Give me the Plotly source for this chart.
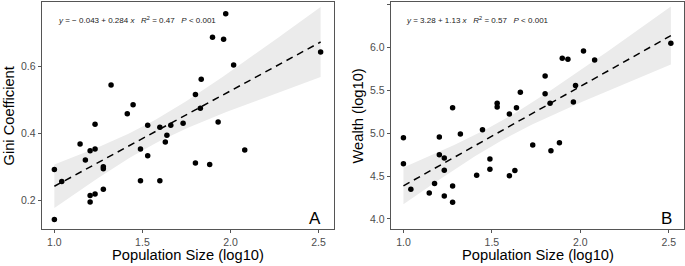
import numpy as np
import plotly.graph_objects as go

# ---------------- data ----------------
pop_a = [1.0, 1.0, 1.042, 1.146, 1.176, 1.203, 1.203, 1.203, 1.231, 1.231, 1.231,
         1.278, 1.278, 1.278, 1.322, 1.414, 1.447, 1.489, 1.489, 1.53, 1.53,
         1.599, 1.599, 1.63, 1.639, 1.661, 1.731, 1.801, 1.801, 1.829, 1.834,
         1.882, 1.898, 1.93, 1.961, 1.973, 2.018, 2.081, 2.512]
gini = [0.292, 0.143, 0.256, 0.368, 0.320, 0.348, 0.214, 0.195, 0.353, 0.427, 0.219,
        0.300, 0.294, 0.233, 0.544, 0.458, 0.485, 0.353, 0.258, 0.424, 0.333,
        0.418, 0.258, 0.374, 0.394, 0.424, 0.430, 0.516, 0.311, 0.475, 0.561,
        0.307, 0.687, 0.434, 0.681, 0.757, 0.604, 0.350, 0.643]

pop_b = [1.0, 1.0, 1.042, 1.146, 1.176, 1.203, 1.203, 1.231, 1.231, 1.231,
         1.278, 1.278, 1.278, 1.322, 1.414, 1.447, 1.489, 1.489, 1.53, 1.53,
         1.599, 1.599, 1.63, 1.639, 1.661, 1.731, 1.801, 1.801, 1.829, 1.834,
         1.882, 1.898, 1.93, 1.961, 1.973, 2.018, 2.081, 2.512]
wealth = [4.949, 4.646, 4.347, 4.304, 4.413, 4.958, 4.751, 4.712, 4.569, 4.269,
          5.300, 4.386, 4.195, 4.993, 4.510, 5.043, 4.701, 4.580, 5.351, 5.308,
          5.226, 4.506, 4.565, 5.300, 5.479, 4.864, 5.670, 5.463, 5.350, 4.798,
          4.891, 5.876, 5.864, 5.366, 5.557, 5.961, 5.856, 6.051]

x_title = "Population Size (log10)"
y_title_a = "Gini Coefficient"
y_title_b = "Wealth (log10)"
eq_a = "<i>y</i>\u00a0=\u00a0\u2212\u00a00.043\u00a0+\u00a00.284\u00a0<i>x</i>\u00a0\u00a0\u00a0<i>R</i><sup>2</sup>\u00a0=\u00a00.47\u00a0\u00a0\u00a0<i>P</i>\u00a0<\u00a00.001"
eq_b = "<i>y</i>\u00a0=\u00a03.28\u00a0+\u00a01.13\u00a0<i>x</i>\u00a0\u00a0\u00a0<i>R</i><sup>2</sup>\u00a0=\u00a00.57\u00a0\u00a0\u00a0<i>P</i>\u00a0<\u00a00.001"
T975 = 2.026  # t quantile for 95% CI


def fit_band(x, y):
    x = np.asarray(x, float)
    y = np.asarray(y, float)
    n = len(x)
    b1, b0 = np.polyfit(x, y, 1)
    resid = y - (b0 + b1 * x)
    s = np.sqrt(np.sum(resid ** 2) / (n - 2))
    xm = x.mean()
    sxx = np.sum((x - xm) ** 2)
    xs = np.linspace(x.min(), x.max(), 80)
    ys = b0 + b1 * xs
    se = s * np.sqrt(1.0 / n + (xs - xm) ** 2 / sxx)
    return xs, ys, ys - T975 * se, ys + T975 * se


W, H = 685, 266
fig = go.Figure()

FONT = "Liberation Sans, Arial, sans-serif"

for idx, (xv, yv) in enumerate([(pop_a, gini), (pop_b, wealth)]):
    xa = "x" if idx == 0 else "x2"
    ya = "y" if idx == 0 else "y2"
    xs, ys, lo, hi = fit_band(xv, yv)
    fig.add_trace(go.Scatter(x=np.concatenate([xs, xs[::-1]]),
                             y=np.concatenate([hi, lo[::-1]]),
                             fill="toself", fillcolor="rgb(235,235,235)",
                             line=dict(width=0), mode="lines", hoverinfo="skip",
                             xaxis=xa, yaxis=ya, showlegend=False))
    fig.add_trace(go.Scatter(x=xv, y=yv, mode="markers",
                             marker=dict(color="black", size=5.5, line=dict(width=0)),
                             xaxis=xa, yaxis=ya, showlegend=False))
    fig.add_trace(go.Scatter(x=xs, y=ys, mode="lines",
                             line=dict(color="black", width=1.5, dash="7px,5px"),
                             xaxis=xa, yaxis=ya, showlegend=False))

ydom = [1 - 229 / H, 1 - 1.5 / H]
axis_common = dict(showgrid=False, zeroline=False, showline=True, mirror=True,
                   linecolor="#555555", linewidth=1, ticks="outside", ticklen=3,
                   tickcolor="#555555", tickwidth=1,
                   tickfont=dict(family=FONT, size=10.5, color="#4d4d4d"))

fig.update_layout(
    width=W, height=H, margin=dict(l=0, r=0, t=0, b=0),
    plot_bgcolor="white", paper_bgcolor="white",
    xaxis=dict(domain=[41.7 / W, 334 / W], range=[0.928, 2.588],
               tickvals=[1.0, 1.5, 2.0, 2.5], tickformat=".1f", anchor="y", **axis_common),
    yaxis=dict(domain=ydom, range=[0.1143, 0.7934], tickvals=[0.2, 0.4, 0.6],
               tickformat=".1f", anchor="x", **axis_common),
    xaxis2=dict(domain=[390.7 / W, 684.3 / W], range=[0.928, 2.588],
                tickvals=[1.0, 1.5, 2.0, 2.5], tickformat=".1f", anchor="y2", **axis_common),
    yaxis2=dict(domain=ydom, range=[3.883, 6.539],
                tickvals=[4.0, 4.5, 5.0, 5.5, 6.0, 6.5], tickformat=".1f", anchor="x2",
                **axis_common),
)


def txt(text, x, y, size, color="black", **kw):
    d = dict(text=text, x=x / W, y=1 - y / H, xref="paper", yref="paper",
             showarrow=False, xanchor="center", yanchor="middle",
             font=dict(family=FONT, size=size, color=color))
    d.update(kw)
    return d


ann = [
    txt(x_title, 188, 255, 14.7),
    txt(x_title, 537.5, 255, 14.7),
    txt(y_title_a, 8.5, 116, 14.7, textangle=-90),
    txt(y_title_b, 357.5, 116, 14.7, textangle=-90),
    txt(eq_a, 55.5, 20, 8, "#222222", xanchor="left"),
    txt(eq_b, 404, 20, 8, "#222222", xanchor="left"),
    txt("A", 323, 218.5, 17, xanchor="right"),
    txt("B", 673.5, 218.5, 17, xanchor="right"),
]
fig.update_layout(annotations=ann)

fig.write_html("out.html", config={"displayModeBar": False},
               post_script="document.body.style.margin='0';document.body.style.padding='0';")
